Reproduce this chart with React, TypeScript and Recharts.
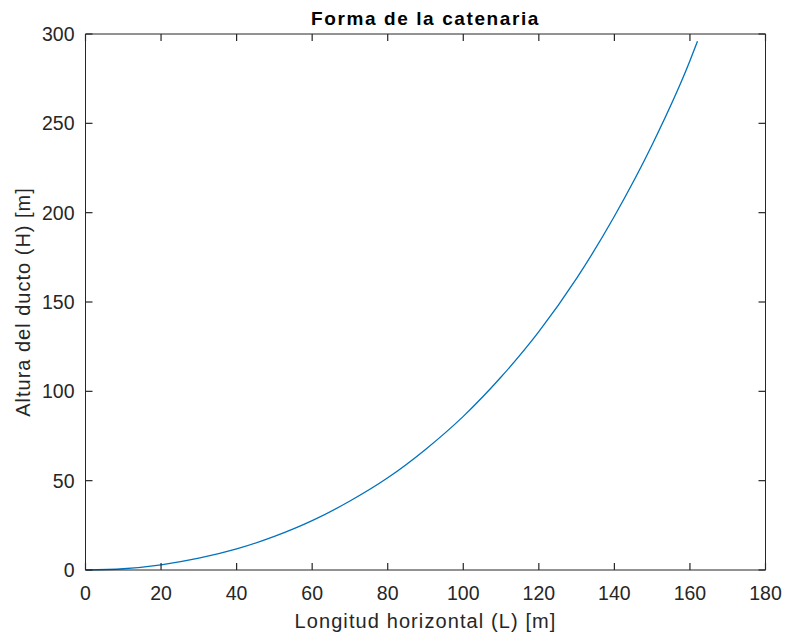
import { LineChart, Line, XAxis, YAxis, Label } from 'recharts';

// Forma del ducto: longitud horizontal (m) vs. altura (m)
const longitud = [0, 10, 20, 30, 40, 50, 60, 70, 80, 90, 100, 110, 120, 130, 140, 150, 160, 162];
const altura = [0, 0.7, 2.9, 6.6, 11.8, 18.8, 27.6, 38.6, 51.6, 67.5, 86, 108, 133.4, 163.2, 198, 238, 285, 296];

const xTicks = [0, 20, 40, 60, 80, 100, 120, 140, 160, 180];
const yTicks = [0, 50, 100, 150, 200, 250, 300];

const data = longitud.map((l, i) => ({ l, h: altura[i] }));

const AXIS = '#262626';
const FONT = '"Liberation Sans", Arial, Helvetica, sans-serif';
const TICK_LEN = 7;

// marcas hacia dentro del eje, al estilo MATLAB
const makeTick = (side: 'bottom' | 'top' | 'left' | 'right', label: boolean) => (props: any) => {
  const { x, y, payload } = props;
  const v = payload.value;
  if (side === 'bottom') {
    return (
      <g>
        <line x1={x} x2={x} y1={y} y2={y - TICK_LEN} stroke={AXIS} strokeWidth={1.2} />
        {label && (
          <text x={x} y={y + 30} textAnchor="middle" fontSize={19.5} fill={AXIS} fontFamily={FONT}>
            {v}
          </text>
        )}
      </g>
    );
  }
  if (side === 'top') {
    return <line x1={x} x2={x} y1={y} y2={y + TICK_LEN} stroke={AXIS} strokeWidth={1.2} />;
  }
  if (side === 'left') {
    return (
      <g>
        <line x1={x} x2={x + TICK_LEN} y1={y} y2={y} stroke={AXIS} strokeWidth={1.2} />
        {label && (
          <text x={x - 11} y={y + 7} textAnchor="end" fontSize={19.5} fill={AXIS} fontFamily={FONT}>
            {v}
          </text>
        )}
      </g>
    );
  }
  return <line x1={x} x2={x - TICK_LEN} y1={y} y2={y} stroke={AXIS} strokeWidth={1.2} />;
};

export default function App() {
  return (
    <div style={{ position: 'absolute', left: 0, top: 0, background: '#fff' }}>
      <LineChart
        width={785}
        height={637}
        data={data}
        margin={{ top: 33, right: 18.5, left: 0, bottom: 0 }}
      >
        <XAxis
          dataKey="l"
          type="number"
          domain={[0, 180]}
          ticks={xTicks}
          height={67}
          stroke={AXIS}
          tickLine={false}
          tickSize={0}
          tickMargin={0}
          tick={makeTick('bottom', true)}
          interval={0}
        >
          <Label
            value="Longitud horizontal (L) [m]"
            position="insideBottom"
            offset={9}
            style={{ fontSize: 20, fill: AXIS, fontFamily: FONT, letterSpacing: 1.1 }}
          />
        </XAxis>
        {/* caja superior y derecha */}
        <XAxis
          xAxisId="top"
          dataKey="l"
          orientation="top"
          type="number"
          domain={[0, 180]}
          ticks={xTicks}
          height={1}
          stroke={AXIS}
          tickLine={false}
          tickSize={0}
          tickMargin={0}
          tick={makeTick('top', false)}
          interval={0}
        >
          <Label
            value="Forma de la catenaria"
            position="top"
            offset={8}
            style={{ fontSize: 19, fontWeight: 'bold', fill: '#000', fontFamily: FONT, letterSpacing: 1.6 }}
          />
        </XAxis>
        <YAxis
          type="number"
          domain={[0, 300]}
          ticks={yTicks}
          width={85.5}
          stroke={AXIS}
          tickLine={false}
          tickSize={0}
          tickMargin={0}
          tick={makeTick('left', true)}
          interval={0}
        >
          <Label
            value="Altura del ducto (H) [m]"
            angle={-90}
            position="insideLeft"
            offset={23}
            style={{ textAnchor: 'middle', fontSize: 20, fill: AXIS, fontFamily: FONT, letterSpacing: 1 }}
          />
        </YAxis>
        <YAxis
          yAxisId="right"
          orientation="right"
          type="number"
          domain={[0, 300]}
          ticks={yTicks}
          width={1}
          stroke={AXIS}
          tickLine={false}
          tickSize={0}
          tickMargin={0}
          tick={makeTick('right', false)}
          interval={0}
        />
        <Line
          type="monotone"
          dataKey="h"
          stroke="#0072BD"
          strokeWidth={1.3}
          dot={false}
          isAnimationActive={false}
        />
        <Line
          xAxisId="top"
          yAxisId="right"
          dataKey="h"
          stroke="none"
          dot={false}
          activeDot={false}
          isAnimationActive={false}
        />
      </LineChart>
    </div>
  );
}
